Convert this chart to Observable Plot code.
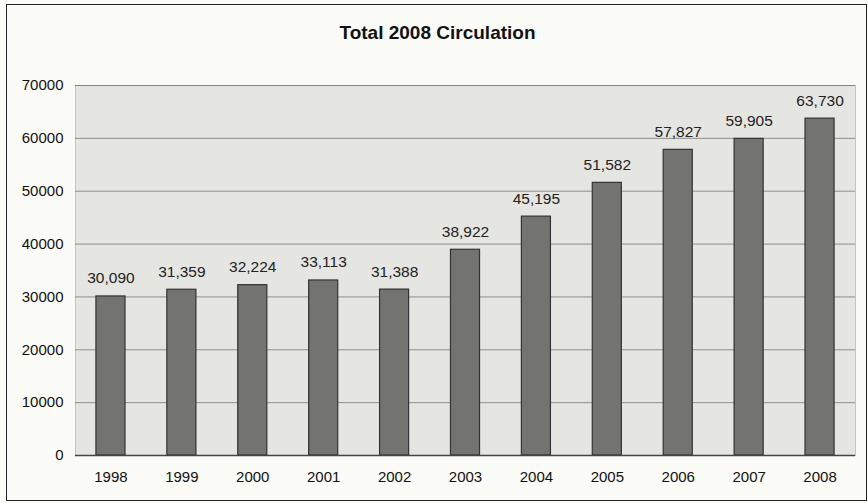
<!DOCTYPE html>
<html>
<head>
<meta charset="utf-8">
<script src="https://cdn.jsdelivr.net/npm/d3@7"></script>
<script src="https://cdn.jsdelivr.net/npm/@observablehq/plot@0.6"></script>
<style>
  body { margin: 0; background: #fbfbf8; }
  #wrap { position: relative; width: 868px; height: 503px; }
  #border { position: absolute; left: 6px; top: 4px; width: 859px; height: 495px; border: 1.5px solid #222; pointer-events: none; }
</style>
</head>
<body>
<div id="wrap"><div id="border"></div></div>
<script>
const years = ["1998","1999","2000","2001","2002","2003","2004","2005","2006","2007","2008"];
const circulation = [30090, 31359, 32224, 33113, 31388, 38922, 45195, 51582, 57827, 59905, 63730];
const yTicks = [0, 10000, 20000, 30000, 40000, 50000, 60000, 70000];
const titleText = "Total 2008 Circulation";

const data = years.map((y, i) => ({year: y, value: circulation[i]}));

const chart = Plot.plot({
  width: 868,
  height: 503,
  marginLeft: 75,
  marginRight: 13,
  marginTop: 85,
  marginBottom: 48,
  style: {background: "transparent", fontFamily: "Liberation Sans, Arial, sans-serif", fontSize: "15px", color: "#111"},
  x: {domain: years, paddingInner: 0.59, paddingOuter: 0.295, round: false, label: null, tickSize: 0, tickPadding: 16},
  y: {domain: [0, 70000], ticks: yTicks, label: null, tickSize: 0, tickPadding: 12, tickFormat: d => String(d)},
  marks: [
    Plot.frame({fill: "#e5e5e2", stroke: "#c4c4c0"}),
    Plot.ruleY(yTicks.filter(t => t > 0), {stroke: "#6a6a6a", strokeWidth: 1, strokeOpacity: 0.7}),
    Plot.barY(data, {x: "year", y: "value", fill: "#737370", stroke: "#333", strokeWidth: 1.2}),
    Plot.ruleY([0], {stroke: "#444", strokeWidth: 1.5}),
    Plot.text(data, {x: "year", y: "value", text: d => d3.format(",")(d.value), dy: -18, fontSize: 15.5, fill: "#222"}),
    Plot.text([titleText], {frameAnchor: "top", lineAnchor: "middle", dx: -28, dy: -53, fontSize: 19, fontWeight: "bold", fill: "#111"})
  ]
});
document.getElementById("wrap").appendChild(chart);
chart.style.position = "absolute";
chart.style.left = "0";
chart.style.top = "0";
</script>
</body>
</html>
